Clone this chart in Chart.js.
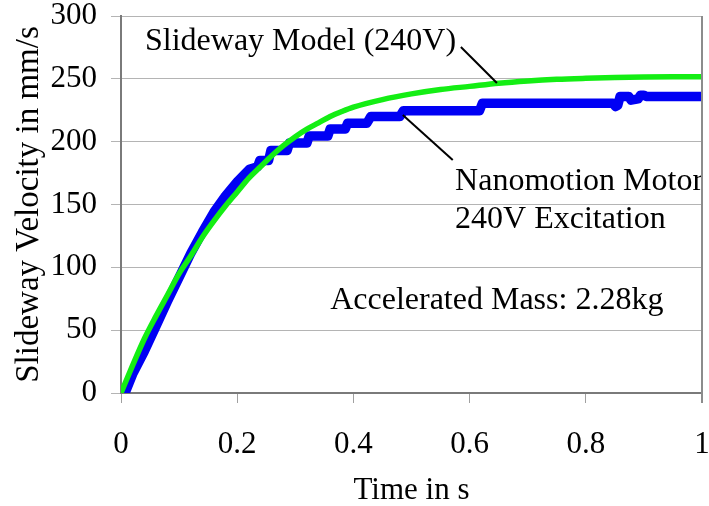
<!DOCTYPE html>
<html><head><meta charset="utf-8">
<script src="https://cdn.jsdelivr.net/npm/chart.js@4.4.1/dist/chart.umd.min.js"></script>
<style>html,body{margin:0;padding:0;background:#fff;}#wrap{width:709px;height:506px;}</style>
</head><body><div id="wrap"><canvas id="c" width="709" height="506"></canvas></div>
<script>
// Slideway model (green) - time in s, velocity in mm/s
const greenT = [0, 0.02, 0.04, 0.06, 0.08, 0.10, 0.12, 0.14, 0.16, 0.18, 0.20, 0.22, 0.24, 0.26, 0.28, 0.30, 0.32, 0.34, 0.36, 0.38, 0.40, 0.45, 0.50, 0.55, 0.60, 0.65, 0.70, 0.75, 0.80, 0.85, 0.90, 0.95, 1.00];
const greenV = [0, 22, 43, 61, 78, 95, 109, 124, 137, 149, 160, 171, 180, 189, 197, 204, 210, 215, 220, 224, 227.5, 233.5, 238, 241.5, 244, 246.5, 248.3, 249.6, 250.4, 251, 251.4, 251.6, 251.7];
// Nanomotion motor measurement (blue)
const blueT = [0.007, 0.02, 0.04, 0.06, 0.08, 0.10, 0.12, 0.14, 0.16, 0.18, 0.20, 0.221, 0.235, 0.239, 0.254, 0.258, 0.286, 0.290, 0.320, 0.324, 0.356, 0.360, 0.386, 0.390, 0.423, 0.430, 0.480, 0.486, 0.617, 0.622, 0.847, 0.851, 0.855, 0.859, 0.874, 0.878, 0.890, 0.894, 0.900, 0.904, 1.0];
const blueV = [0, 15, 33, 53, 73, 92, 111, 128, 144, 157, 168, 178, 180, 185, 185, 193, 193, 199, 199, 204.5, 204.5, 210, 210, 214.6, 214.6, 220, 220, 224.6, 224.6, 230.5, 230.5, 228, 229, 236, 236, 233, 234, 237, 237, 236, 236];
const xTickLabels = ['0', '0.2', '0.4', '0.6', '0.8', '1'];
const yTickLabels = ['0', '50', '100', '150', '200', '250', '300'];
const xTitle = 'Time in s';
const yTitle = 'Slideway Velocity in mm/s';
const noteTexts = ['Slideway Model (240V)', 'Nanomotion Motor', '240V Excitation', 'Accelerated Mass: 2.28kg'];
const noteT = [0.0413, 0.575, 0.575, 0.36];
const noteV = [273, 161.5, 131.3, 66.8];
const leaderFrom = [[0.585, 275.3], [0.485, 221.2]];
const leaderTo = [[0.647, 246.7], [0.571, 185.4]];

const SERIF = "'Liberation Serif', 'Times New Roman', serif";

const annot = {
  id: 'annot',
  afterDatasetsDraw(chart) {
    const ctx = chart.ctx, xs = chart.scales.x, ys = chart.scales.y;
    ctx.save();
    ctx.strokeStyle = '#000';
    ctx.lineWidth = 2;
    for (let i = 0; i < leaderFrom.length; i++) {
      ctx.beginPath();
      ctx.moveTo(xs.getPixelForValue(leaderFrom[i][0]), ys.getPixelForValue(leaderFrom[i][1]));
      ctx.lineTo(xs.getPixelForValue(leaderTo[i][0]), ys.getPixelForValue(leaderTo[i][1]));
      ctx.stroke();
    }
    ctx.fillStyle = '#000';
    ctx.font = '32px ' + SERIF;
    ctx.textBaseline = 'alphabetic';
    ctx.textAlign = 'left';
    for (let i = 0; i < noteTexts.length; i++) {
      ctx.fillText(noteTexts[i], xs.getPixelForValue(noteT[i]), ys.getPixelForValue(noteV[i]));
    }
    // right frame edge
    const a = chart.chartArea;
    ctx.strokeStyle = '#8c8c8c';
    ctx.lineWidth = 2;
    ctx.beginPath();
    ctx.moveTo(a.right, a.top);
    ctx.lineTo(a.right, a.bottom + 10);
    ctx.stroke();
    ctx.restore();
  }
};

new Chart(document.getElementById('c'), {
  type: 'line',
  data: {
    datasets: [
      {
        label: 'Slideway Model (240V)',
        data: greenT.map((t, i) => ({x: t, y: greenV[i]})),
        borderColor: '#14ee14',
        borderWidth: 5.5,
        pointRadius: 0,
        cubicInterpolationMode: 'monotone',
        fill: false,
        order: 0
      },
      {
        label: 'Nanomotion Motor 240V Excitation',
        data: blueT.map((t, i) => ({x: t, y: blueV[i]})),
        borderColor: '#0000f4',
        borderWidth: 9.5,
        borderCapStyle: 'round',
        borderJoinStyle: 'round',
        pointRadius: 0,
        tension: 0,
        fill: false,
        order: 1
      }
    ]
  },
  options: {
    responsive: false,
    animation: false,
    events: [],
    layout: {padding: {top: 16, right: 7, left: 0, bottom: 0}},
    plugins: {legend: {display: false}, tooltip: {enabled: false}},
    scales: {
      x: {
        type: 'linear', min: 0, max: 1,
        border: {display: true, color: '#7a7a7a', width: 2},
        grid: {display: true, drawOnChartArea: false, drawTicks: true, tickLength: 10, color: '#a0a0a0', lineWidth: 1},
        ticks: {
          stepSize: 0.2, color: '#000', padding: 26, maxRotation: 0,
          font: {family: SERIF, size: 31, lineHeight: 1},
          callback: (v, i) => xTickLabels[i]
        },
        title: {display: true, text: xTitle, color: '#000', font: {family: SERIF, size: 31, lineHeight: 1}, padding: {top: 0, bottom: 0}},
        afterFit: s => { s.height = 113; s.paddingLeft = 0; s.paddingRight = 0; }
      },
      y: {
        min: 0, max: 300,
        border: {display: true, color: '#7a7a7a', width: 2},
        grid: {display: true, drawOnChartArea: true, drawTicks: true, tickLength: 10, color: '#b4b4b4', lineWidth: 1},
        ticks: {
          stepSize: 50, color: '#000', padding: 14,
          font: {family: SERIF, size: 31, lineHeight: 1},
          callback: (v, i) => yTickLabels[i]
        },
        title: {display: true, text: yTitle, color: '#000', font: {family: SERIF, size: 33, lineHeight: 1}, padding: {top: 13, bottom: 0}},
        afterFit: s => { s.width = 121; s.paddingTop = 0; s.paddingBottom = 0; }
      }
    }
  },
  plugins: [annot]
});
</script></body></html>
